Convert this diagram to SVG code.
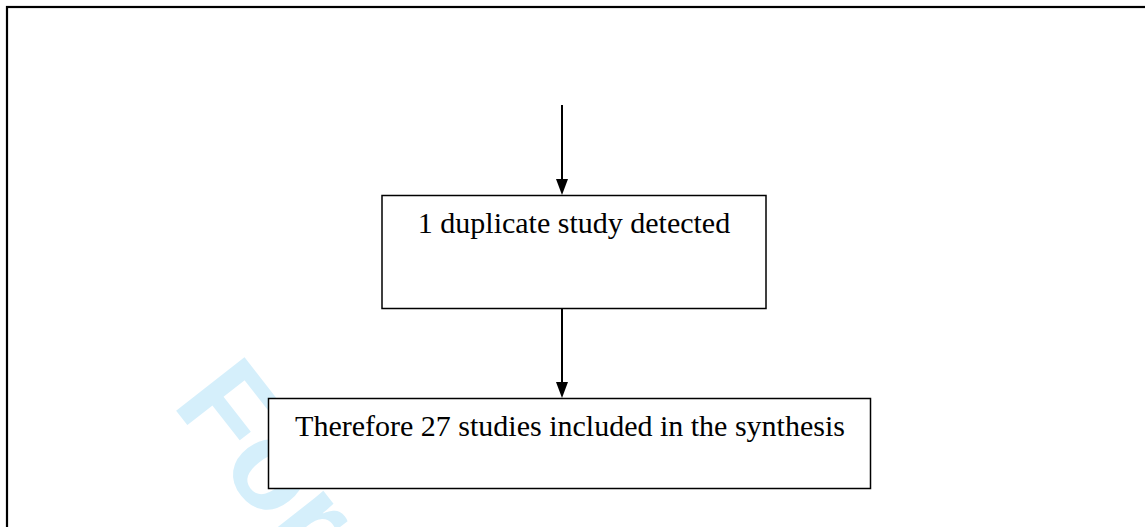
<svg xmlns="http://www.w3.org/2000/svg" width="1145" height="527" viewBox="0 0 1145 527">
  <style>
    .frame { fill: none; stroke: #000; stroke-width: 2.2; }
    .box { fill: #fff; stroke: #000; stroke-width: 1.5; }
    .label { font-family: "Liberation Serif", "Times New Roman", serif; font-size: 30px; fill: #000; text-anchor: middle; }
    .wm { font-family: "Liberation Sans", Arial, sans-serif; font-weight: bold; font-size: 126px; fill: #d5effb; }
    .conn { stroke: #000; stroke-width: 2; fill: none; }
    .head { fill: #000; }
  </style>
  <rect width="1145" height="527" fill="#fff"/>
  <text class="wm" transform="translate(171 404) rotate(52)">For</text>
  <rect class="frame" x="7" y="7" width="1150" height="530"/>
  <g id="connectors">
    <line class="conn" x1="562" y1="105" x2="562" y2="180"/>
    <polygon class="head" points="556,179 568,179 562,195"/>
    <line class="conn" x1="562" y1="308" x2="562" y2="383"/>
    <polygon class="head" points="556,382 568,382 562,398"/>
  </g>
  <g id="node-duplicate">
    <rect class="box" x="382" y="195.5" width="384" height="113"/>
    <text class="label" x="574" y="233">1 duplicate study detected</text>
  </g>
  <g id="node-included">
    <rect class="box" x="268.5" y="398.5" width="602" height="90"/>
    <text class="label" x="570" y="436">Therefore 27 studies included in the synthesis</text>
  </g>
</svg>
